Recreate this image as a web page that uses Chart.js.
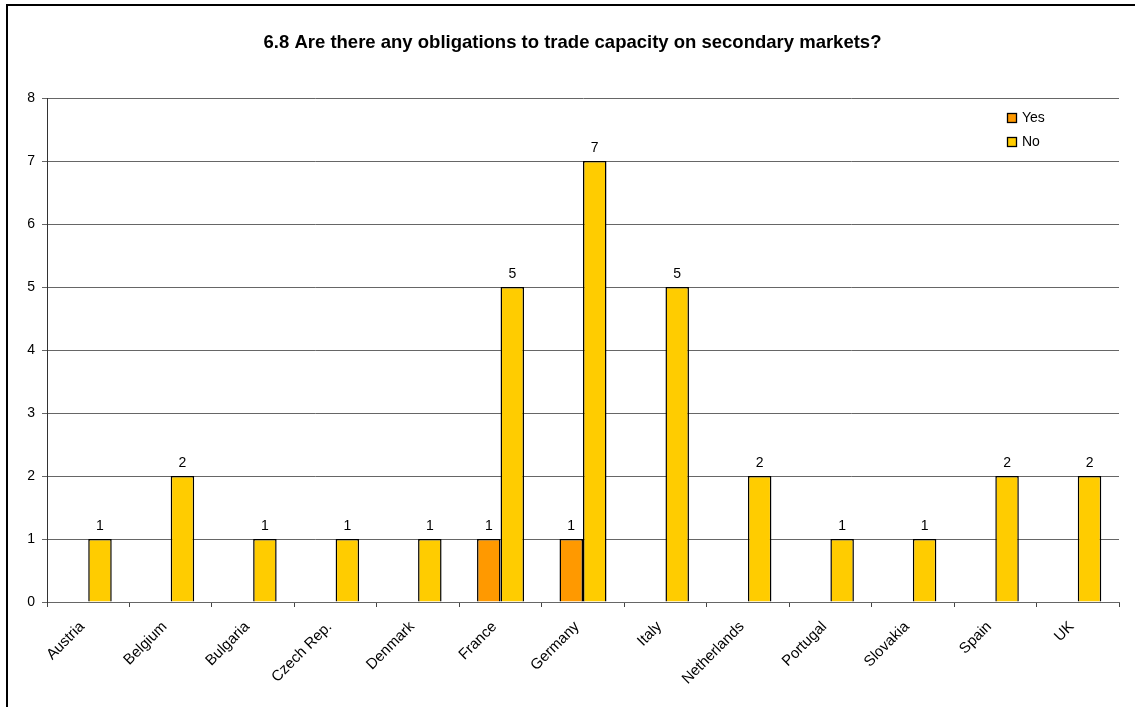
<!DOCTYPE html>
<html>
<head>
<meta charset="utf-8">
<script src="https://cdn.jsdelivr.net/npm/chart.js@4/dist/chart.umd.min.js"></script>
<style>
  html, body { margin: 0; padding: 0; background: #fff; overflow: hidden; width: 1135px; height: 707px; }
  #frameTop { position: absolute; left: 6px; top: 4px; width: 1200px; height: 2px; background: #000; }
  #frameLeft { position: absolute; left: 6px; top: 4px; width: 2px; height: 720px; background: #000; }
  #c { position: absolute; left: 0; top: 0; }
</style>
</head>
<body>
<canvas id="c" width="1149" height="707"></canvas>
<div id="frameTop"></div>
<div id="frameLeft"></div>
<script>
const titleText = '6.8 Are there any obligations to trade capacity on secondary markets?';
const countries = ['Austria', 'Belgium', 'Bulgaria', 'Czech Rep.', 'Denmark', 'France', 'Germany',
                   'Italy', 'Netherlands', 'Portugal', 'Slovakia', 'Spain', 'UK'];
const yesValues = [null, null, null, null, null, 1, 1, null, null, null, null, null, null];
const noValues  = [1, 2, 1, 1, 1, 5, 7, 5, 2, 1, 1, 2, 2];
const yTicks = [0, 1, 2, 3, 4, 5, 6, 7, 8];

const FONT = '"Liberation Sans", Arial, sans-serif';

// Numbers printed above every bar
const valueLabels = {
  id: 'valueLabels',
  afterDatasetsDraw(chart) {
    const ctx = chart.ctx;
    ctx.save();
    ctx.font = '14px ' + FONT;
    ctx.fillStyle = '#000';
    ctx.textAlign = 'center';
    ctx.textBaseline = 'alphabetic';
    chart.data.datasets.forEach((ds, i) => {
      chart.getDatasetMeta(i).data.forEach((bar, j) => {
        const v = ds.data[j];
        if (v === null || v === undefined) return;
        ctx.fillText(String(v), bar.x, bar.y - 9);
      });
    });
    ctx.restore();
  }
};

// Vertical key in the upper right of the plot
const boxKey = {
  id: 'boxKey',
  afterDraw(chart) {
    const ctx = chart.ctx;
    const a = chart.chartArea;
    const x = a.right - 112;
    ctx.save();
    ctx.font = '14px ' + FONT;
    ctx.textBaseline = 'middle';
    ctx.textAlign = 'left';
    chart.data.datasets.forEach((ds, i) => {
      const y = a.top + 15 + i * 24;
      ctx.fillStyle = ds.backgroundColor;
      ctx.fillRect(x, y, 10, 10);
      ctx.strokeStyle = '#000';
      ctx.lineWidth = 1.3;
      ctx.strokeRect(x + 0.5, y + 0.5, 9, 9);
      ctx.fillStyle = '#000';
      ctx.fillText(ds.label, x + 15, y + 5.5);
    });
    ctx.restore();
  }
};

new Chart(document.getElementById('c'), {
  type: 'bar',
  data: {
    labels: countries,
    datasets: [
      { label: 'Yes', data: yesValues, backgroundColor: '#FF9900', borderColor: '#000', borderWidth: 1.5 },
      { label: 'No',  data: noValues,  backgroundColor: '#FFCC00', borderColor: '#000', borderWidth: 1.5 }
    ]
  },
  options: {
    responsive: false,
    animation: false,
    layout: { padding: { left: 26, right: 30, top: 0, bottom: 0 } },
    datasets: { bar: { categoryPercentage: 0.57, barPercentage: 1.0 } },
    plugins: {
      legend: { display: false },
      tooltip: { enabled: false },
      title: {
        display: true,
        text: titleText,
        color: '#000',
        font: { family: FONT, size: 18.5, weight: 'bold', lineHeight: 1.2 },
        padding: { top: 32, bottom: 43.8 }
      }
    },
    scales: {
      x: {
        afterFit(s) { s.height = 105; },
        grid: { offset: true, drawOnChartArea: false, drawTicks: true, tickLength: 5, color: '#444' },
        border: { display: true, color: '#666', width: 1 },
        ticks: {
          color: '#000',
          font: { family: FONT, size: 15 },
          minRotation: 45, maxRotation: 45,
          autoSkip: false,
          padding: 11,
          labelOffset: -6
        }
      },
      y: {
        min: 0, max: 8,
        afterFit(s) { s.width = 21; },
        afterBuildTicks(s) { s.ticks = yTicks.map(v => ({ value: v })); },
        grid: { color: '#666', lineWidth: 1, drawTicks: true, tickLength: 5 },
        border: { display: true, color: '#333', width: 1 },
        ticks: {
          color: '#000',
          font: { family: FONT, size: 14 },
          padding: 7
        }
      }
    }
  },
  plugins: [valueLabels, boxKey]
});
</script>
</body>
</html>
